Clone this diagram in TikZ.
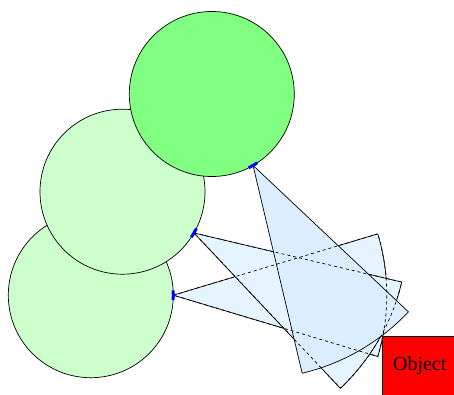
\documentclass[tikz,border=0pt]{standalone}
\usepackage{fontspec}
\setmainfont{Liberation Serif}
\definecolor{oldpose}{RGB}{204,255,204}
\definecolor{curpose}{RGB}{128,255,128}
\definecolor{fovold}{RGB}{230,244,255}
\definecolor{fovcur}{RGB}{218,238,255}
\definecolor{objred}{RGB}{255,0,0}
\tikzset{
  pose/.style={circle, draw=black, line width=0.7pt, minimum size=165pt, inner sep=0pt, outer sep=0pt},
  fovline/.style={draw=black, line width=0.7pt, line join=round},
  hidden/.style={draw=black, line width=0.7pt, dashed},
  marker/.style={draw=blue, line width=3pt},
  objbox/.style={draw=black, fill=objred, line width=0.7pt, minimum width=74.2pt, minimum height=58.8pt, inner sep=0pt, anchor=north west, font=\fontsize{20}{24}\selectfont}
}
\begin{document}
\begin{tikzpicture}[x=1pt,y=1pt]
\useasboundingbox (0,0) rectangle (454,394);
\clip (0,0) rectangle (454,394);
% robot poses
\node[pose, fill=oldpose] (c1) at (90.8,98.8) {};
\node[pose, fill=oldpose] (c2) at (122.5,202.3) {};
\node[pose, fill=curpose] (c3) at (211.8,300) {};
% apexes of the fields of view
\coordinate (a1) at (c1.0);
\coordinate (a2) at (c2.-30);
\coordinate (a3) at (c3.-60);
% field of view sectors (later ones cover earlier ones)
\path[fovline, fill=fovold] (a1) -- ++(16.7:213.5pt) arc (16.7:-16.7:213.5pt) -- cycle;
\path[fovline, fill=fovold] (a2) -- ++(-13.3:213.5pt) arc (-13.3:-46.7:213.5pt) -- cycle;
\path[fovline, fill=fovcur] (a3) -- ++(-43.3:213.5pt) arc (-43.3:-76.7:213.5pt) -- cycle;
% hidden edges
\path[hidden] (a1) -- ++(16.7:213.5pt) arc (16.7:-16.7:213.5pt) -- cycle;
\path[hidden] (a2) -- ++(-13.3:213.5pt) arc (-13.3:-46.7:213.5pt) -- cycle;
% heading markers
\draw[marker] (c1.center) ++(-3.4:82.5pt) arc (-3.4:3.4:82.5pt);
\draw[marker] (c2.center) ++(-33.4:82.5pt) arc (-33.4:-26.6:82.5pt);
\draw[marker] (c3.center) ++(-63.4:82.5pt) arc (-63.4:-56.6:82.5pt);
% object
\node[objbox] (obj) at (382.3,58.3) {Object};
\end{tikzpicture}
\end{document}
